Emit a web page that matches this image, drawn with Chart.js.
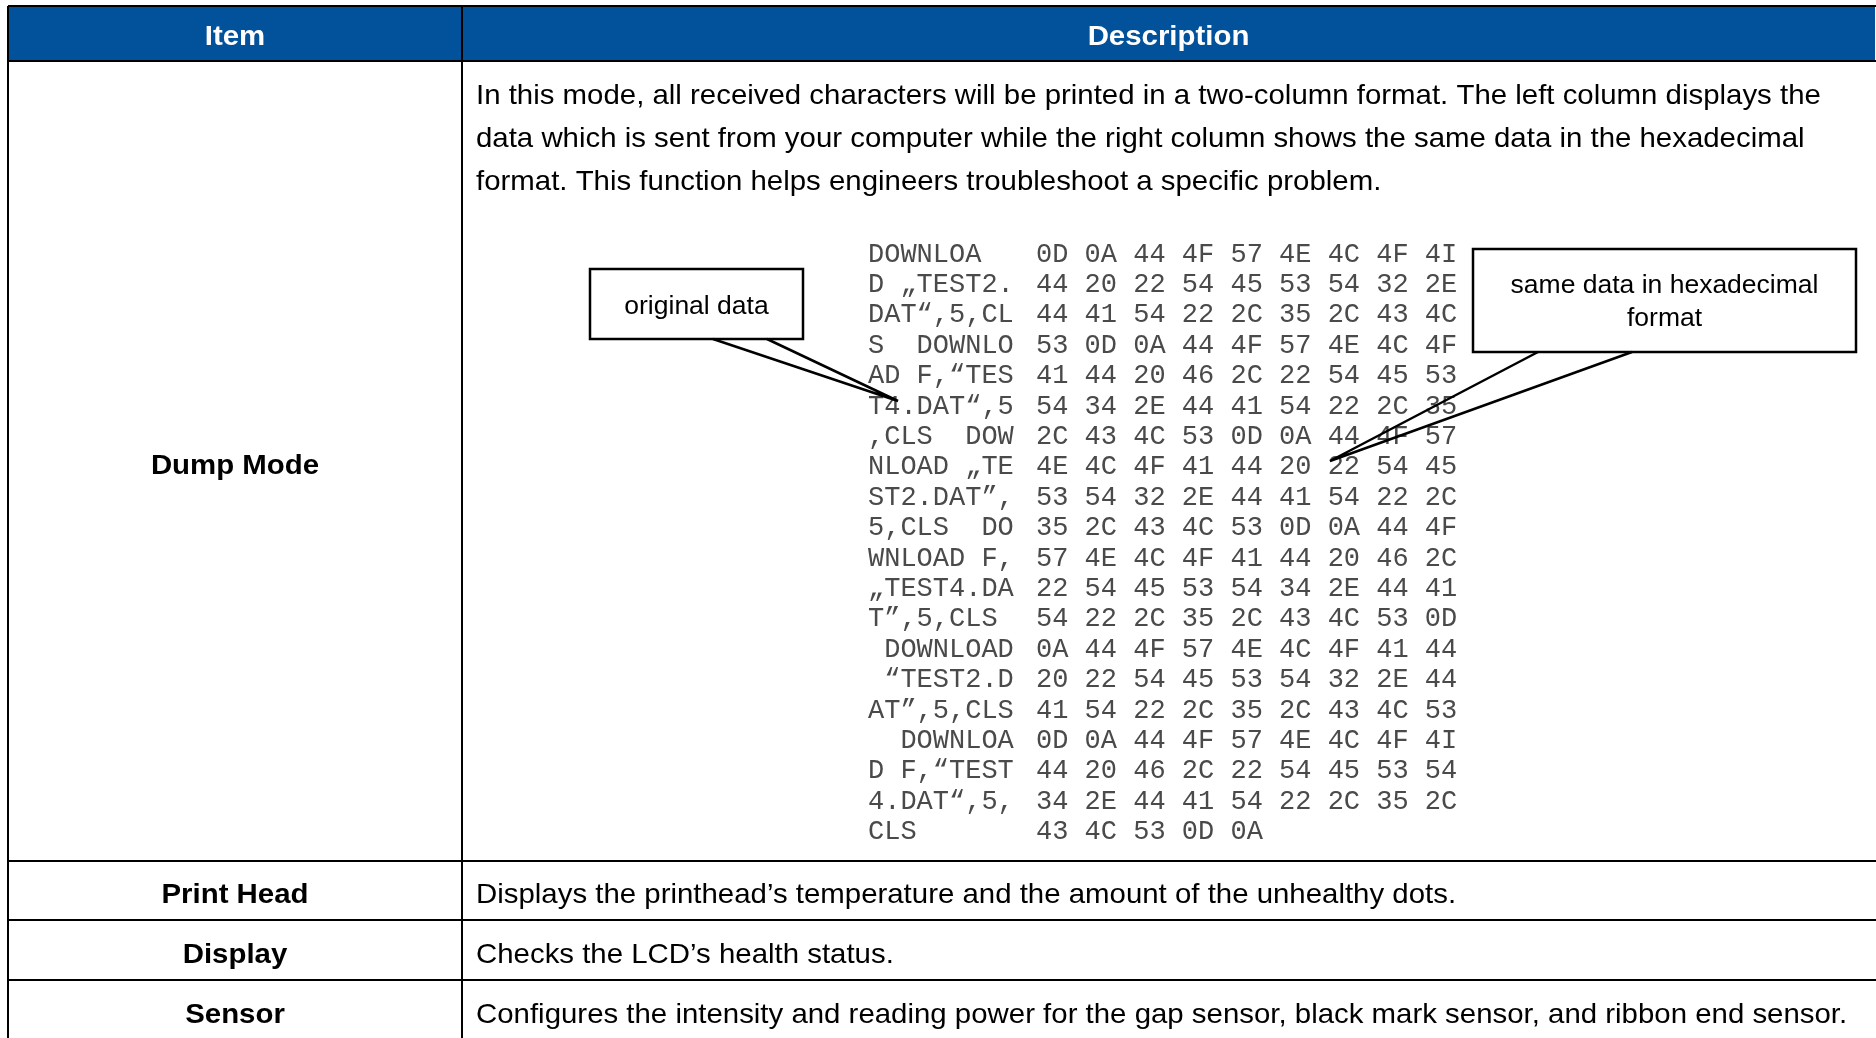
<!DOCTYPE html>
<html>
<head>
<meta charset="utf-8">
<script src="https://cdn.jsdelivr.net/npm/chart.js@4/dist/chart.umd.min.js"></script>
<style>
  html, body { margin: 0; padding: 0; background: #fff; }
  canvas { display: block; }
</style>
</head>
<body>
<canvas id="table" width="1876" height="1038"></canvas>
<script>
// table content
const headers = ["Item", "Description"];
const items = ["Dump Mode", "Print Head", "Display", "Sensor"];
const descriptions = [
  [
    "In this mode, all received characters will be printed in a two-column format. The left column displays the",
    "data which is sent from your computer while the right column shows the same data in the hexadecimal",
    "format. This function helps engineers troubleshoot a specific problem.",
  ],
  ["Displays the printhead\u2019s temperature and the amount of the unhealthy dots."],
  ["Checks the LCD\u2019s health status."],
  ["Configures the intensity and reading power for the gap sensor, black mark sensor, and ribbon end sensor."],
];

// dump sample (left: characters, right: hex)
const dumpText = [
  "DOWNLOA", "D \u201eTEST2.", "DAT\u201c,5,CL", "S  DOWNLO", "AD F,\u201cTES",
  "T4.DAT\u201c,5", ",CLS  DOW", "NLOAD \u201eTE", "ST2.DAT\u201d,", "5,CLS  DO",
  "WNLOAD F,", "\u201eTEST4.DA", "T\u201d,5,CLS", " DOWNLOAD", " \u201cTEST2.D",
  "AT\u201d,5,CLS", "  DOWNLOA", "D F,\u201cTEST", "4.DAT\u201c,5,", "CLS",
];
const dumpHex = [
  "0D 0A 44 4F 57 4E 4C 4F 4I", "44 20 22 54 45 53 54 32 2E", "44 41 54 22 2C 35 2C 43 4C",
  "53 0D 0A 44 4F 57 4E 4C 4F", "41 44 20 46 2C 22 54 45 53", "54 34 2E 44 41 54 22 2C 35",
  "2C 43 4C 53 0D 0A 44 4F 57", "4E 4C 4F 41 44 20 22 54 45", "53 54 32 2E 44 41 54 22 2C",
  "35 2C 43 4C 53 0D 0A 44 4F", "57 4E 4C 4F 41 44 20 46 2C", "22 54 45 53 54 34 2E 44 41",
  "54 22 2C 35 2C 43 4C 53 0D", "0A 44 4F 57 4E 4C 4F 41 44", "20 22 54 45 53 54 32 2E 44",
  "41 54 22 2C 35 2C 43 4C 53", "0D 0A 44 4F 57 4E 4C 4F 4I", "44 20 46 2C 22 54 45 53 54",
  "34 2E 44 41 54 22 2C 35 2C", "43 4C 53 0D 0A",
];
const calloutLabels = [["original data"], ["same data in hexadecimal", "format"]];

// layout (in the same units as the chart's scales)
const colEdges = [8, 462, 1875];
const rowEdges = [6, 61, 861, 920, 980, 1041];
const descX = 476;
const descLineY = [96.5, 139.5, 182.5];
const dump = { textX: 868, hexX: 1036, y0: 254.5, step: 30.4 };
const callouts = [
  { box: [590, 269, 803, 339], base: [713, 767], tip: [898, 401], lineY: [307] },
  { box: [1473, 249, 1856, 352], base: [1538, 1632], tip: [1330, 461], lineY: [285.5, 318.5] },
];

const HEAD_BLUE = "#01519b";
const SANS = "'Liberation Sans', Arial, Helvetica, sans-serif";
const MONO = "'Liberation Mono', 'Courier New', monospace";
const STRETCH = 1.05; // reference type is a bit wider than Liberation Sans

const tablePlugin = {
  id: "tableDraw",
  afterDraw(chart) {
    const { ctx } = chart;
    const xs = chart.scales.x;
    const ys = chart.scales.y;
    const px = (v) => xs.getPixelForValue(v);
    const py = (v) => ys.getPixelForValue(v);

    const text = (str, x, y, font, color, align, sx = 1) => {
      ctx.save();
      ctx.font = font;
      ctx.fillStyle = color;
      ctx.textAlign = align;
      ctx.textBaseline = "middle";
      ctx.translate(px(x), py(y));
      ctx.scale(sx, 1);
      ctx.fillText(str, 0, 0);
      ctx.restore();
    };

    ctx.save();

    // header band
    ctx.fillStyle = HEAD_BLUE;
    ctx.fillRect(px(colEdges[0]), py(rowEdges[0]), px(colEdges[2]) - px(colEdges[0]), py(rowEdges[1]) - py(rowEdges[0]));

    // grid
    ctx.strokeStyle = "#000";
    ctx.lineWidth = 2;
    ctx.beginPath();
    rowEdges.forEach((r) => {
      ctx.moveTo(px(colEdges[0]), py(r));
      ctx.lineTo(px(colEdges[2]) + 2, py(r));
    });
    colEdges.slice(0, 2).forEach((c) => {
      ctx.moveTo(px(c), py(rowEdges[0]));
      ctx.lineTo(px(c), py(rowEdges[rowEdges.length - 1]));
    });
    ctx.stroke();

    // header texts
    headers.forEach((h, i) => {
      const cx = (colEdges[i] + colEdges[i + 1]) / 2;
      text(h, cx, (rowEdges[0] + rowEdges[1]) / 2 + 4, "bold 28px " + SANS, "#fff", "center", STRETCH);
    });

    // item names
    items.forEach((name, i) => {
      const cx = (colEdges[0] + colEdges[1]) / 2;
      const cy = (rowEdges[i + 1] + rowEdges[i + 2]) / 2 + 5;
      text(name, cx, cy, "bold 28px " + SANS, "#000", "center", STRETCH);
    });

    // descriptions
    descriptions.forEach((lines, i) => {
      lines.forEach((line, j) => {
        const cy = i === 0 ? descLineY[j] : (rowEdges[i + 1] + rowEdges[i + 2]) / 2 + 5;
        text(line, descX, cy, "28px " + SANS, "#000", "left", STRETCH);
      });
    });

    // dump sample
    dumpText.forEach((t, i) => {
      const cy = dump.y0 + i * dump.step;
      text(t, dump.textX, cy, "27px " + MONO, "#4a4a4a", "left");
      text(dumpHex[i], dump.hexX, cy, "27px " + MONO, "#4a4a4a", "left");
    });

    // callouts
    callouts.forEach((c, i) => {
      const [x0, y0, x1, y1] = c.box;
      ctx.fillStyle = "#fff";
      ctx.fillRect(px(x0), py(y0), px(x1) - px(x0), py(y1) - py(y0));
      ctx.lineWidth = 2.5;
      ctx.strokeStyle = "#000";
      ctx.strokeRect(px(x0), py(y0), px(x1) - px(x0), py(y1) - py(y0));
      ctx.beginPath();
      ctx.moveTo(px(c.base[0]), py(y1));
      ctx.lineTo(px(c.tip[0]), py(c.tip[1]));
      ctx.lineTo(px(c.base[1]), py(y1));
      ctx.stroke();
      calloutLabels[i].forEach((line, j) => {
        text(line, (x0 + x1) / 2, c.lineY[j], "26.5px " + SANS, "#000", "center");
      });
    });

    ctx.restore();
  },
};

new Chart(document.getElementById("table").getContext("2d"), {
  type: "scatter",
  data: { datasets: [] },
  options: {
    responsive: false,
    animation: false,
    events: [],
    layout: { padding: 0 },
    plugins: { legend: { display: false }, tooltip: { enabled: false } },
    scales: {
      x: { type: "linear", min: 0, max: 1876, display: false },
      y: { type: "linear", min: 0, max: 1038, reverse: true, display: false },
    },
  },
  plugins: [tablePlugin],
});
</script>
</body>
</html>
